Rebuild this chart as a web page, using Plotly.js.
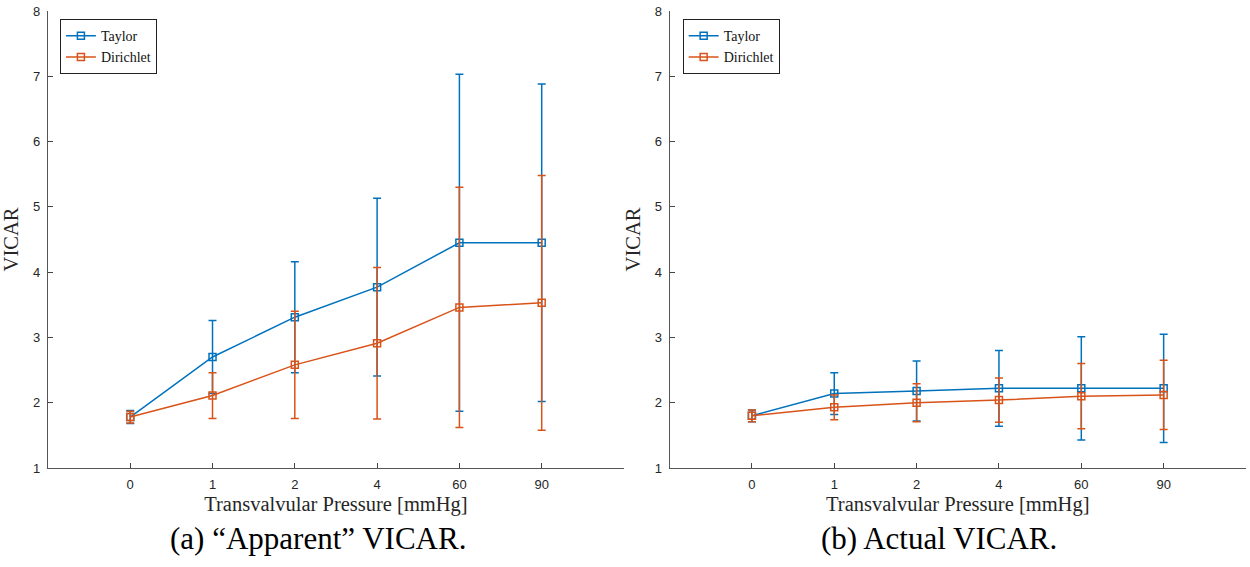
<!DOCTYPE html>
<html>
<head>
<meta charset="utf-8">
<script src="https://cdn.plot.ly/plotly-3.0.1.min.js"></script>
<style>html,body{margin:0;padding:0;background:#fff;}#chart{width:1250px;height:567px;}</style>
</head>
<body>
<div id="chart"></div>
<script>
// Tick labels (transvalvular pressure, mmHg)
const pressures = ['0', '1', '2', '4', '60', '90'];

// (a) "Apparent" VICAR
const apparentTaylor = [1.78, 2.70, 3.31, 3.77, 4.45, 4.45];
const apparentTaylorErr = [0.10, 0.56, 0.85, 1.36, 2.58, 2.43];
const apparentDirichlet = [1.78, 2.11, 2.58, 2.91, 3.46, 3.53];
const apparentDirichletErr = [0.09, 0.35, 0.82, 1.16, 1.84, 1.95];

// (b) Actual VICAR
const actualTaylor = [1.80, 2.14, 2.18, 2.22, 2.22, 2.22];
const actualTaylorErr = [0.09, 0.32, 0.46, 0.58, 0.79, 0.83];
const actualDirichlet = [1.80, 1.93, 2.00, 2.04, 2.10, 2.12];
const actualDirichletErr = [0.09, 0.19, 0.29, 0.34, 0.50, 0.53];

const seriesNames = ['Taylor', 'Dirichlet'];
const BLUE = '#0072BD', ORANGE = '#D95319';
const SERIF = 'Liberation Serif';
const SANS = 'Liberation Sans';

function trace(name, y, err, color, xa, ya, legend) {
  return {
    type: 'scatter', mode: 'lines+markers', name: name,
    x: pressures, y: y, xaxis: xa, yaxis: ya, legend: legend,
    line: {color: color, width: 1.5},
    marker: {symbol: 'square-open', size: 7, color: color, line: {width: 1.5, color: color}},
    error_y: {type: 'data', array: err, visible: true, color: color, thickness: 1.5, width: 4}
  };
}

const data = [
  trace(seriesNames[0], apparentTaylor, apparentTaylorErr, BLUE, 'x', 'y', 'legend'),
  trace(seriesNames[1], apparentDirichlet, apparentDirichletErr, ORANGE, 'x', 'y', 'legend'),
  trace(seriesNames[0], actualTaylor, actualTaylorErr, BLUE, 'x2', 'y2', 'legend2'),
  trace(seriesNames[1], actualDirichlet, actualDirichletErr, ORANGE, 'x2', 'y2', 'legend2')
];

function xaxis(domain, anchor) {
  return {
    domain: domain, anchor: anchor, type: 'category', range: [-1, 6],
    showline: true, linecolor: '#555', linewidth: 1,
    ticks: 'inside', ticklen: 5, tickcolor: '#444', showgrid: false, zeroline: false,
    ticklabelstandoff: 4,
    tickfont: {family: SANS, size: 13, color: '#262626'},
    title: {text: 'Transvalvular Pressure [mmHg]', font: {family: SERIF, size: 20.5, color: '#262626'}, standoff: 6}
  };
}
function yaxis(anchor) {
  return {
    domain: [0, 1], anchor: anchor, range: [1, 8], dtick: 1,
    showline: true, linecolor: '#555', linewidth: 1,
    ticks: 'inside', ticklen: 5, tickcolor: '#444', showgrid: false, zeroline: false,
    ticklabelstandoff: 4,
    tickfont: {family: SANS, size: 13, color: '#262626'},
    title: {text: 'VICAR', font: {family: SERIF, size: 20.5, color: '#262626'}, standoff: 8}
  };
}
function legend(x) {
  return {
    x: x, y: 0.982, xanchor: 'left', yanchor: 'top',
    bgcolor: '#fff', bordercolor: '#222', borderwidth: 1,
    font: {family: SERIF, size: 14, color: '#111'}, tracegroupgap: 0,
    itemwidth: 30
  };
}

const layout = {
  width: 1250, height: 567,
  margin: {l: 0, r: 2, t: 11, b: 99},
  paper_bgcolor: '#fff', plot_bgcolor: '#fff',
  font: {family: SERIF},
  showlegend: true,
  xaxis: xaxis([0.0384, 0.5], 'y'),
  yaxis: yaxis('x'),
  xaxis2: xaxis([0.5365, 0.9984], 'y2'),
  yaxis2: yaxis('x2'),
  legend: legend(0.048),
  legend2: legend(0.547),
  annotations: [
    {text: '(a) “Apparent” VICAR.', xref: 'paper', yref: 'paper', x: 0.2552, y: -0.155, xanchor: 'center', yanchor: 'middle', showarrow: false, font: {family: SERIF, size: 31, color: '#000'}},
    {text: '(b) Actual VICAR.', xref: 'paper', yref: 'paper', x: 0.7525, y: -0.155, xanchor: 'center', yanchor: 'middle', showarrow: false, font: {family: SERIF, size: 31, color: '#000'}}
  ]
};

Plotly.newPlot('chart', data, layout, {displayModeBar: false, staticPlot: true});
</script>
</body>
</html>
